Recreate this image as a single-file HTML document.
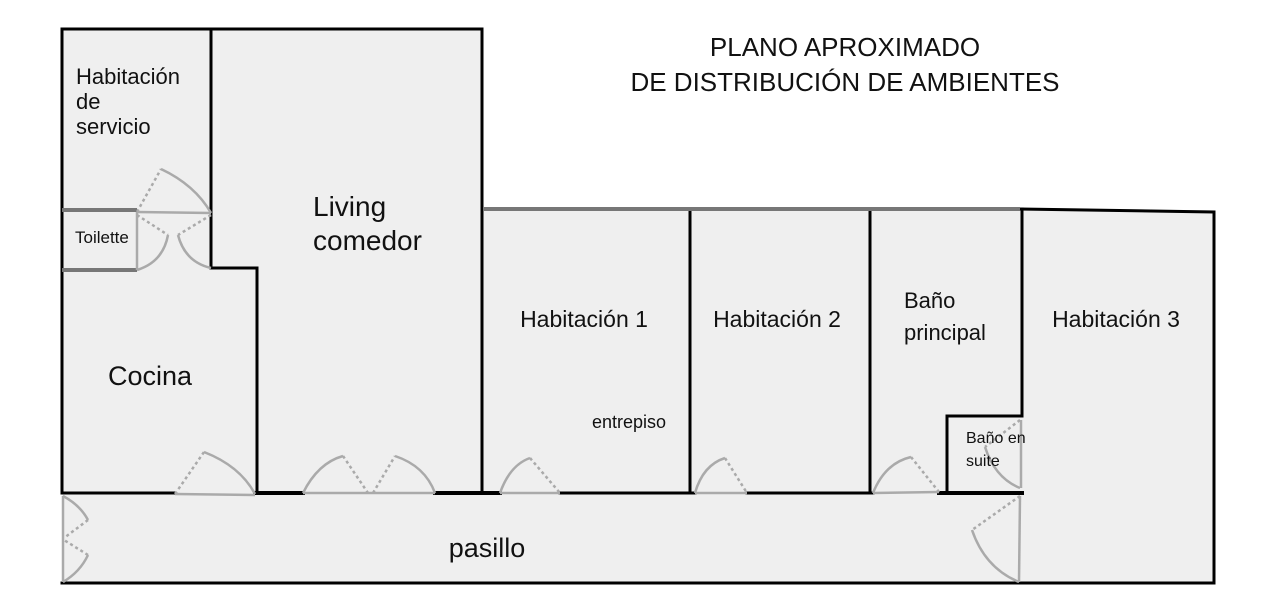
<!DOCTYPE html>
<html><head><meta charset="utf-8"><style>
html,body{margin:0;padding:0;background:#fff}
svg{display:block}
text{font-family:"Liberation Sans","DejaVu Sans",sans-serif;fill:#111}
</style></head><body>
<svg width="1277" height="612" viewBox="0 0 1277 612" xmlns="http://www.w3.org/2000/svg">
<g fill="#efefef">
<polygon points="62,29 482,29 482,209 1020,209 1214,212 1214,583 62,583"/>
</g>
<g stroke="#000" stroke-width="3" fill="none" stroke-linecap="square">
<polyline points="62,493 62,29 482,29 482,493"/>
<polyline points="211,29 211,268 257,268 257,493"/>
<line x1="690" y1="209" x2="690" y2="493"/>
<line x1="870" y1="209" x2="870" y2="493"/>
<polyline points="1022,209 1022,416 947,416 947,493"/>
<polyline points="1020,209 1214,212 1214,583 62,583"/>
<line x1="62" y1="493" x2="175" y2="493"/>
<line x1="255" y1="493" x2="303" y2="493" stroke-width="4"/>
<line x1="435" y1="493" x2="500" y2="493" stroke-width="4"/>
<line x1="560" y1="493" x2="695" y2="493"/>
<line x1="747" y1="493" x2="873" y2="493"/>
<line x1="939" y1="493" x2="1022" y2="493" stroke-width="4"/>
</g>
<g stroke="#777" stroke-width="4">
<line x1="484" y1="209" x2="1020" y2="209"/>
<line x1="62" y1="210" x2="137" y2="210"/>
<line x1="62" y1="270" x2="137" y2="270"/>
</g>
<g stroke="#aaa" stroke-width="2.5" fill="none">
<line x1="137" y1="212" x2="211" y2="213"/>
<line x1="137" y1="212" x2="137" y2="270"/>
<path d="M161,169 Q195,185 211,213"/>
<path d="M168,235 Q163,262 137,270"/>
<path d="M178,235 Q185,262 211,268"/>
<path d="M204,452 Q240,466 255,494"/>
<line x1="175" y1="494" x2="255" y2="495"/>
<path d="M303,493 Q318,463 343,456"/>
<path d="M395,456 Q425,466 435,493"/>
<line x1="303" y1="493" x2="435" y2="493"/>
<path d="M500,493 Q510,465 530,458"/>
<line x1="500" y1="493" x2="560" y2="493"/>
<path d="M695,493 Q703,465 725,458"/>
<line x1="695" y1="493" x2="747" y2="493"/>
<path d="M873,493 Q885,463 911,457"/>
<line x1="873" y1="493" x2="939" y2="492"/>
<line x1="1021" y1="420" x2="1021" y2="488"/>
<path d="M985,447 Q995,478 1020,488"/>
<line x1="1020" y1="496" x2="1019" y2="582"/>
<path d="M972,530 Q985,568 1019,582"/>
<line x1="63" y1="496" x2="63" y2="582"/>
<path d="M63,496 Q80,505 88,520"/>
<path d="M63,582 Q80,572 88,555"/>
</g>
<g stroke="#aaa" stroke-width="2.5" fill="none" stroke-dasharray="3,3">
<line x1="137" y1="212" x2="161" y2="169"/>
<line x1="137" y1="215" x2="168" y2="235"/>
<line x1="211" y1="215" x2="178" y2="235"/>
<line x1="175" y1="494" x2="204" y2="452"/>
<line x1="343" y1="456" x2="368" y2="493"/>
<line x1="373" y1="493" x2="395" y2="456"/>
<line x1="530" y1="458" x2="560" y2="493"/>
<line x1="725" y1="458" x2="747" y2="493"/>
<line x1="911" y1="457" x2="939" y2="492"/>
<line x1="1020" y1="420" x2="985" y2="447"/>
<line x1="1020" y1="496" x2="972" y2="530"/>
<line x1="88" y1="520" x2="64" y2="538"/>
<line x1="88" y1="555" x2="64" y2="540"/>
</g>
<text x="845" y="56" font-size="26" text-anchor="middle">PLANO APROXIMADO</text>
<text x="845" y="91" font-size="26" text-anchor="middle">DE DISTRIBUCIÓN DE AMBIENTES</text>
<text x="76" y="84" font-size="22">Habitación</text>
<text x="76" y="109" font-size="22">de</text>
<text x="76" y="134" font-size="22">servicio</text>
<text x="75" y="243" font-size="17">Toilette</text>
<text x="313" y="216" font-size="28">Living</text>
<text x="313" y="250" font-size="28">comedor</text>
<text x="108" y="385" font-size="27">Cocina</text>
<text x="584" y="327" font-size="23" text-anchor="middle">Habitación 1</text>
<text x="777" y="327" font-size="23" text-anchor="middle">Habitación 2</text>
<text x="904" y="308" font-size="22">Baño</text>
<text x="904" y="340" font-size="22">principal</text>
<text x="1116" y="327" font-size="23" text-anchor="middle">Habitación 3</text>
<text x="592" y="428" font-size="18">entrepiso</text>
<text x="966" y="443" font-size="16">Baño en</text>
<text x="966" y="466" font-size="16">suite</text>
<text x="487" y="557" font-size="27" text-anchor="middle">pasillo</text>
</svg>
</body></html>
